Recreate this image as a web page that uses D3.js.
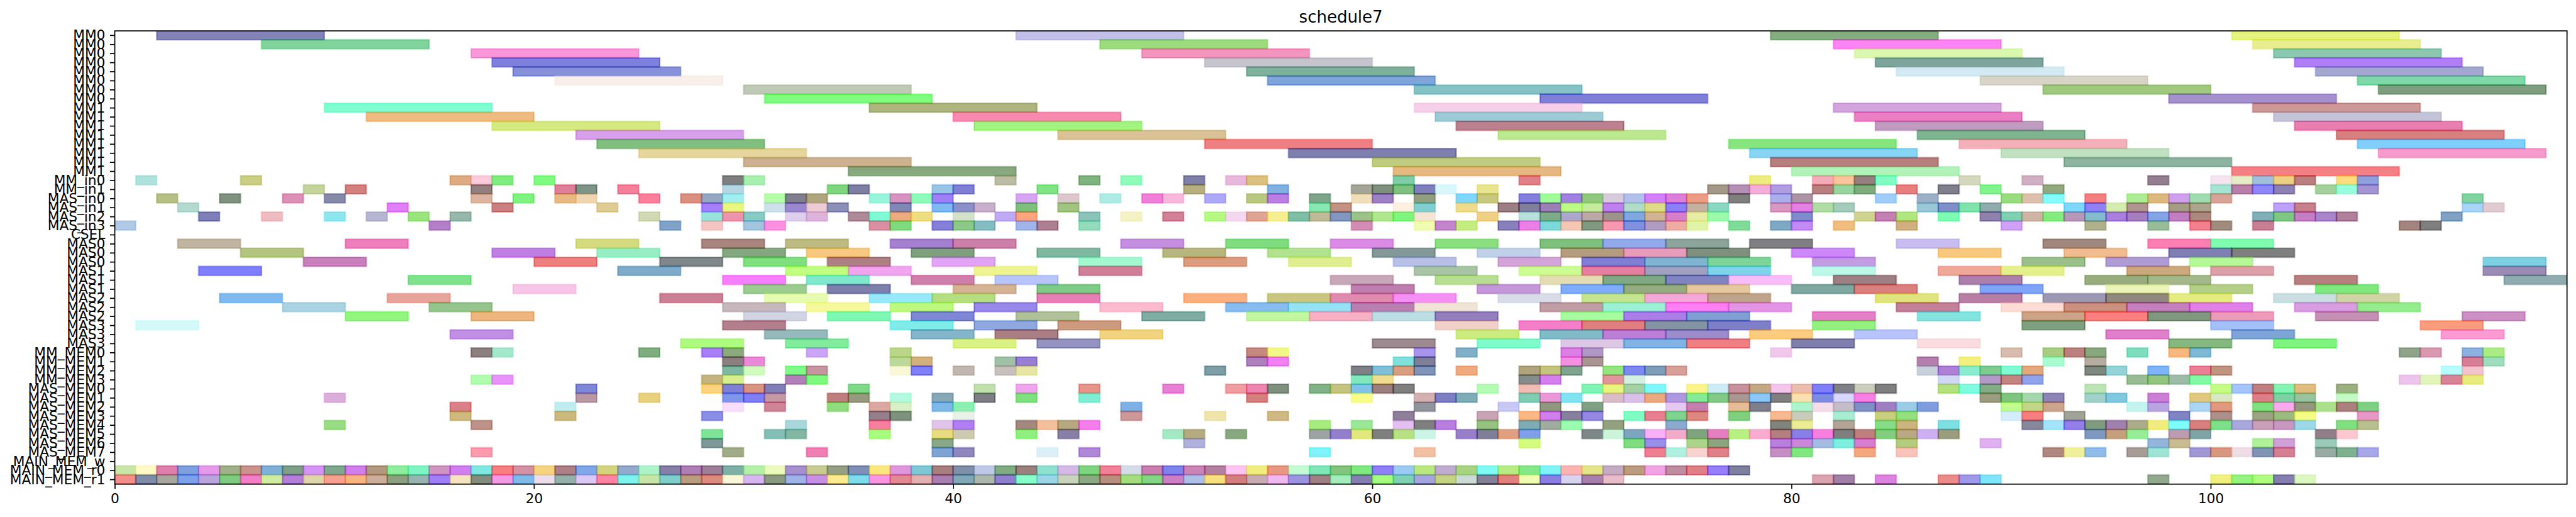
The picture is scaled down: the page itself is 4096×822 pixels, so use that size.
<!DOCTYPE html>
<html><head><meta charset="utf-8">
<script src="https://d3js.org/d3.v7.min.js"></script>
<style>html,body{margin:0;padding:0;background:#fff;overflow:hidden}svg{display:block}</style>
</head><body><div id="chart"></div>
<script>
const chartTitle = "schedule7";
const categories = ["MM0","MM0","MM0","MM0","MM0","MM0","MM0","MM0","MM1","MM1","MM1","MM1","MM1","MM1","MM1","MM1",
 "MM_in0","MM_in1","MAS_in0","MAS_in1","MAS_in2","MAS_in3","CSEL",
 "MAS0","MAS0","MAS0","MAS1","MAS1","MAS1","MAS2","MAS2","MAS2","MAS3","MAS3","MAS3",
 "MM_MEM0","MM_MEM1","MM_MEM2","MM_MEM3","MAS_MEM0","MAS_MEM1","MAS_MEM2","MAS_MEM3","MAS_MEM4","MAS_MEM5","MAS_MEM6","MAS_MEM7",
 "MAIN_MEM_w","MAIN_MEM_r0","MAIN_MEM_r1"];
const taskLengths = [8,8,8,8,8,8,8,8,8,8,8,8,8,8,8,8,1,1,1,1,1,1,3,3,3,3,3,3,3,3,3,3,3,3,3,1,1,1,1,1,1,1,1,1,1,1,1,1,1,1];
const xTicks = [0,20,40,60,80,100];

// [start, observed colour] per row
const mm0Rows = [
 [[2,"8383b8"],[43,"c2bfe8"],[79,"84ae78"],[101,"e4f47c"]],
 [[7,"80d49c"],[47,"9cdc74"],[82,"fc84f4"],[102,"e8ee90"]],
 [[17,"fb96da"],[49,"f495be"],[83,"daf8b0"],[103,"8cc8b0"]],
 [[18,"7d7bde"],[52,"c6c4cc"],[84,"6ca49c"],[104,"b06cf8"]],
 [[19,"8691d9"],[54,"78b09c"],[85,"d4eaf2"],[105,"a4a8d0"]],
 [[21,"f8eeea"],[55,"68a4da"],[89,"d8d4c8"],[107,"64d8a8"]],
 [[30,"c0c9b6"],[62,"84c2c6"],[92,"a0c878"],[108,"709e6c"]],
 [[31,"80fc76"],[68,"6c78d8"],[98,"a490cc"]]
];
const mm1Rows = [
 [[10,"78ffcf"],[36,"aeb574"],[62,"f5d0e8"],[82,"d4a4de"],[102,"cc9898"]],
 [[12,"efbb68"],[40,"f88ab0"],[63,"9ccbd6"],[83,"ec74c4"],[103,"c4c4d8"]],
 [[18,"d4ea80"],[41,"a0f47c"],[64,"bc808e"],[84,"c09cc0"],[104,"e868b0"]],
 [[22,"d89fea"],[45,"dac296"],[66,"bce990"],[86,"68b490"],[106,"d88074"]],
 [[23,"80bf6c"],[52,"ee7482"],[77,"88e478"],[88,"f4b0b8"],[107,"7ccefc"]],
 [[25,"e4d69c"],[56,"7870b0"],[78,"88d4f4"],[90,"c0e2c0"],[108,"f69ccc"]],
 [[30,"cdb292"],[60,"c0cc74"],[79,"b87878"],[93,"8cb4a0"]],
 [[35,"88a974"],[61,"e4b880"],[80,"b0f2b8"],[101,"f47084"]]
];
const inputRows = [
 [[1,"b0e2dd"],[6,"cacd84"],[16,"dfab84"],[17,"fbcadb"],[18,"78ec64"],[20,"76fb6c"],[29,"797f6e"],[30,"a8f0b0"],[42,"bcbca4"],[46,"68b364"],[48,"90fcbc"],[51,"7c72a8"],[53,"e8b8dc"],[54,"dcc07c"],[61,"68cca8"],[67,"e08088"],[78,"ecec74"],[81,"f4acb8"],[82,"fcc49c"],[83,"987874"],[84,"80fcc4"],[88,"d4d8bc"],[91,"d0b0c4"],[97,"947490"],[100,"f4e4f0"],[101,"e4ecc8"],[102,"a0c0dc"],[103,"ecd084"],[104,"bc7c70"],[106,"fcdc64"],[107,"90a0dc"]],
 [[9,"c4d49c"],[11,"d48078"],[17,"946f72"],[21,"de6d9a"],[22,"7a9488"],[24,"f4739a"],[29,"b5d6e3"],[34,"7cd47a"],[35,"726ea4"],[39,"98c4e6"],[40,"7c70d4"],[44,"68e484"],[51,"b7af6a"],[55,"68b0e0"],[59,"a4a498"],[60,"7c9078"],[61,"68c080"],[62,"6e6abc"],[63,"d8f8fc"],[65,"e8e490"],[76,"a49888"],[77,"b490b4"],[78,"f4acd8"],[79,"b09ce0"],[81,"b87870"],[82,"98d4a0"],[83,"68ac68"],[85,"e86878"],[87,"80708c"],[89,"78f48c"],[92,"94a868"],[100,"a4e4d0"],[101,"b868a8"],[102,"9088f8"],[103,"8c80b4"],[105,"a4d09c"],[106,"98ffdc"],[107,"a494d0"]],
 [[2,"b6bf84"],[5,"6f9174"],[8,"dc90b6"],[10,"8789a9"],[17,"dcb5a0"],[19,"76f27c"],[21,"e8ba82"],[22,"f0d6b0"],[25,"fe709c"],[27,"dc8f6f"],[28,"94a9c1"],[29,"a3eef0"],[31,"b4ffa8"],[32,"7c6c8e"],[33,"afa66a"],[36,"98f5dc"],[37,"d892c0"],[38,"8cfcb8"],[39,"a080f8"],[43,"d8a4f4"],[45,"dcc8cc"],[47,"acece4"],[49,"f078d8"],[50,"f8b8dc"],[52,"aea8fa"],[54,"b8c870"],[55,"ba76e0"],[57,"6ca48c"],[59,"f0deba"],[60,"9e80c4"],[62,"929f68"],[64,"6cd8fc"],[65,"c8c874"],[67,"8478dc"],[68,"a0fc98"],[69,"a080e0"],[70,"90c87c"],[71,"d8ccdc"],[72,"b4c0ec"],[73,"d46cfc"],[74,"dc70d8"],[75,"ec9c84"],[77,"7c6c70"],[79,"aaaeec"],[80,"ac94a4"],[84,"a0ccf8"],[86,"9cb0c8"],[90,"98dc64"],[91,"dcc0ac"],[92,"84fcfc"],[94,"f46c80"],[96,"acec94"],[97,"dcb864"],[98,"d0a0ec"],[99,"a0dcb0"],[100,"d8a498"],[112,"68d4a0"]],
 [[3,"b2dace"],[13,"e06ef8"],[18,"cc6f78"],[23,"decc94"],[28,"a56ffc"],[29,"e9f760"],[31,"cee0ea"],[32,"9a88ce"],[33,"eccdd4"],[34,"8c8fb8"],[37,"6f88b5"],[39,"68b9f4"],[40,"8c90c8"],[41,"c8b0cc"],[43,"64c070"],[45,"a0c47c"],[57,"88e8b4"],[58,"c49064"],[61,"fdf0e0"],[62,"70cfd0"],[64,"eedc8c"],[66,"9c7884"],[67,"686c9c"],[68,"9c78b8"],[69,"bcfc84"],[70,"c4ec9c"],[71,"c070f0"],[72,"b0dcc8"],[73,"dedc84"],[74,"8c70fc"],[75,"c4b0a0"],[76,"88d8c4"],[79,"d898c0"],[80,"e464e4"],[81,"b0dca4"],[82,"a4ccbc"],[86,"98c8d8"],[87,"6c90c8"],[88,"7ce4ac"],[89,"90acac"],[93,"7cd8fc"],[94,"9080f8"],[95,"d4ecac"],[96,"b09490"],[98,"a49c84"],[99,"aca48c"],[103,"bca0fc"],[104,"c87c8c"],[112,"a8d4f8"],[113,"e0ccd0"]],
 [[4,"7b72b8"],[7,"eebcc2"],[10,"8fe6ee"],[12,"b6b6d2"],[14,"9be56a"],[16,"96b8aa"],[25,"d0d8b4"],[28,"98e4dc"],[29,"ee94ac"],[30,"88cac4"],[32,"ded0ec"],[33,"ddb4dc"],[35,"ae8a98"],[36,"78fcd6"],[37,"ecac78"],[38,"eede6c"],[40,"d4e2cc"],[42,"beaaf4"],[43,"fca580"],[46,"8cc4bc"],[48,"f4f2c4"],[50,"d27498"],[52,"b6fa84"],[53,"f4d8f0"],[54,"e0a494"],[55,"f6ee90"],[56,"76bfa8"],[57,"bfbb98"],[58,"8296c0"],[59,"9cc488"],[60,"b0e890"],[61,"7cf464"],[62,"f6e4d4"],[65,"f0d084"],[67,"b8e0dc"],[68,"74ac88"],[69,"aca8cc"],[70,"bca8a8"],[71,"9c948c"],[72,"70a8e0"],[73,"d0b494"],[74,"d878cc"],[75,"e8eca4"],[76,"9cfcac"],[80,"6c8ccc"],[83,"d0d490"],[84,"c47cb4"],[85,"b0e860"],[87,"6cfcb4"],[89,"9080ac"],[90,"64d0b0"],[91,"d0b4a4"],[92,"84ec68"],[93,"b898b8"],[94,"84bccc"],[95,"a87cdc"],[96,"a470c0"],[97,"84a4e8"],[98,"c078c0"],[99,"ac8860"],[102,"70b0b8"],[103,"78c884"],[104,"c46cc4"],[105,"a884c8"],[106,"b0709c"],[111,"80a0c4"]],
 [[0,"b0c9e7"],[15,"b378c6"],[26,"6ea3c8"],[28,"f5c5c4"],[30,"a2c4de"],[31,"fd90e0"],[36,"d88f9f"],[37,"6eda74"],[39,"8470d8"],[40,"8cc888"],[41,"84bcc4"],[43,"a0b4ea"],[44,"ae7890"],[46,"92dcbc"],[59,"d28cb4"],[62,"f0fcb0"],[63,"c484cc"],[64,"c4ec70"],[66,"8880b8"],[67,"ec70e4"],[68,"6cd8d8"],[69,"f4c8b4"],[70,"749878"],[71,"f898b0"],[72,"8090dc"],[73,"b09cc0"],[74,"ecaca4"],[75,"e0f4a8"],[77,"78dc98"],[79,"68a8c4"],[80,"c488f4"],[82,"f0bc78"],[85,"d0b080"],[90,"d0a0f4"],[94,"b0b08c"],[97,"98bc98"],[99,"f07c90"],[100,"a08c68"],[102,"c87c94"],[109,"a4847c"],[110,"7c7c68"]]
];
const cselRow = [];
const mas0Rows = [
 [[3,"c0b5a0"],[11,"ee7bbd"],[22,"d4db74"],[28,"a98580"],[32,"bdbb82"],[37,"a568d0"],[40,"cc70a8"],[48,"c48fdf"],[53,"78dc6c"],[58,"da8ce4"],[63,"8ae068"],[68,"80c074"],[71,"94a8ec"],[74,"8ca49c"],[78,"786a84"],[85,"c8bcf0"],[92,"a08878"],[97,"fc74b4"],[100,"68fcb0"]],
 [[6,"b2c474"],[18,"bf7fe2"],[23,"98eec4"],[29,"85a76f"],[33,"f6c880"],[38,"7f9f78"],[44,"6eb8a0"],[50,"b8b66c"],[55,"b0e290"],[60,"84989a"],[65,"c0d0e8"],[69,"b49c6c"],[72,"e89cbc"],[75,"749078"],[80,"cc88f8"],[87,"f8c878"],[93,"f0bc90"],[98,"8068b4"],[101,"6c7c68"]],
 [[9,"c960bb"],[20,"ee7a72"],[26,"70878a"],[30,"80e066"],[34,"ae7085"],[39,"e2a4f6"],[46,"a4f8d0"],[51,"dc9c64"],[56,"dfee90"],[61,"b8c0e8"],[66,"d4a4d8"],[70,"7c70d4"],[73,"80b4d0"],[76,"7cd49c"],[81,"c49ce4"],[91,"9cc08c"],[95,"b09cd4"],[99,"b4f898"],[113,"7cd0e0"]]
];
const mas1Rows = [
 [[4,"8080ff"],[24,"7baac9"],[32,"c0ff80"],[35,"f0a5ee"],[41,"eef490"],[46,"cf8098"],[62,"a8c4a4"],[67,"ccfc94"],[70,"e468a0"],[73,"a0a0c0"],[76,"7cd4ec"],[81,"bcf8e8"],[87,"f0a898"],[90,"e4f08c"],[96,"cca87c"],[100,"dca0a8"],[113,"9c8cb4"]],
 [[14,"78e28c"],[29,"f878fc"],[33,"80e8cc"],[38,"d06cac"],[42,"b8c4fc"],[58,"c8a8b8"],[63,"b8de94"],[68,"e4dcb4"],[71,"68a884"],[74,"8084c0"],[77,"f8bcf8"],[82,"9e6a84"],[88,"ac70ac"],[94,"98ac68"],[97,"a4b88c"],[104,"b87c70"],[114,"90acb0"]],
 [[19,"f7c5e8"],[30,"9ccc90"],[34,"7468ac"],[40,"d4b494"],[44,"74cc88"],[59,"be70ae"],[65,"c498d8"],[69,"7cacfc"],[72,"94ac68"],[75,"e4c8a0"],[80,"78a8a0"],[83,"dc7c64"],[89,"78a4f8"],[95,"ecf4b8"],[99,"b4d088"],[105,"6ce87c"]]
];
const mas2Rows = [
 [[5,"6cb9ef"],[13,"e8a39a"],[26,"cc8094"],[31,"e6fbb0"],[36,"98e8fc"],[39,"b4de70"],[44,"e86cb4"],[51,"fcb078"],[55,"cbc66c"],[58,"e08ab0"],[61,"f490f4"],[66,"d8dce8"],[70,"c4e490"],[73,"f4a8d8"],[76,"bfa48c"],[84,"e0e464"],[88,"b868a4"],[92,"9c98b4"],[95,"908874"],[98,"e4ec74"],[103,"c8dee0"],[106,"d0d4a4"]],
 [[8,"a9d2e3"],[15,"96c48e"],[29,"c6b7bd"],[33,"f6f89c"],[37,"bdf868"],[41,"9888ea"],[47,"fcbace"],[53,"88bcf0"],[56,"94e2f4"],[59,"b868b0"],[62,"f0e4d6"],[68,"c09ca4"],[71,"9cf0d4"],[74,"fc64f4"],[77,"e494e4"],[85,"c48098"],[90,"fcdcd4"],[93,"cc9078"],[96,"c478bc"],[99,"e068e8"],[104,"d89ce0"],[107,"94ec8c"]],
 [[11,"92f67e"],[17,"edb67c"],[30,"d0d4e3"],[34,"74f8b4"],[38,"7e88d6"],[43,"b0c098"],[49,"70aca4"],[54,"c4f6a0"],[57,"f8b0c4"],[60,"bcdee4"],[63,"9478be"],[69,"a8fca0"],[72,"ac70e8"],[75,"80a0d4"],[81,"e47cc8"],[86,"84e4e0"],[91,"cca488"],[94,"fc6c74"],[97,"80987c"],[100,"ec9cb8"],[105,"c490b4"],[112,"cc90c4"]]
];
const mas3Rows = [
 [[1,"d2fafa"],[29,"b3738c"],[37,"68ecea"],[41,"8fa8e0"],[45,"cc9a6c"],[63,"f0d0c8"],[67,"f470c8"],[70,"e07c80"],[73,"8494a4"],[76,"747cc8"],[81,"94f068"],[91,"6ca07c"],[100,"a4c0f8"],[110,"fc9c74"]],
 [[16,"c190e6"],[31,"96b9bb"],[38,"84b5ca"],[42,"aa7a84"],[47,"f2d480"],[64,"ccec60"],[68,"80bcc8"],[71,"bc70d8"],[74,"9c8ccc"],[78,"fccc78"],[83,"b8c4fc"],[95,"e080cc"],[101,"6ca4d8"],[111,"fc9ad4"]],
 [[27,"aefc68"],[32,"80ec9c"],[40,"daf284"],[44,"9494c0"],[60,"9c8a90"],[65,"78fccc"],[69,"dcc8e4"],[72,"80b4e4"],[75,"f06c84"],[80,"8078ac"],[86,"fadce0"],[98,"84b870"],[103,"7cf470"]]
];
const mmMemRows = [
 [[17,"8e7468"],[18,"a4e8cc"],[25,"68ad6c"],[28,"a868f6"],[29,"8ca87e"],[33,"cba5f8"],[37,"bbd68a"],[54,"c48874"],[55,"f2f888"],[62,"a894ec"],[64,"80b0c8"],[69,"dc7ce4"],[70,"b098c4"],[79,"f0c8ec"],[90,"d8bcb0"],[92,"a8cc80"],[93,"bc6478"],[94,"88a868"],[96,"70dcbc"],[98,"f8b880"],[99,"70b8d4"],[109,"90a48c"],[110,"d898b0"],[112,"8cb0e0"],[113,"acec84"]],
 [[29,"8c7c7e"],[30,"e88ad8"],[37,"bcd89a"],[38,"d4b068"],[42,"a0c0a8"],[43,"9870d4"],[54,"ae80bc"],[55,"f080f4"],[61,"70e0dc"],[62,"686a98"],[69,"f490e0"],[70,"a89490"],[86,"b47cac"],[88,"f4f064"],[92,"a8fcd0"],[94,"b4ada0"],[112,"d87c98"],[113,"a0dcc0"]],
 [[29,"72b8a0"],[30,"d0fcc0"],[32,"78fc88"],[33,"c596a0"],[37,"f8f8d8"],[38,"6f80fc"],[40,"c0b8b0"],[42,"c8c0be"],[43,"e8e6a4"],[52,"6f9ea8"],[59,"686888"],[60,"7cc0d8"],[61,"d89e6c"],[62,"6894b8"],[64,"f0aa7c"],[67,"b0a47c"],[68,"c4c47c"],[69,"64a490"],[71,"94e468"],[72,"6888f0"],[73,"7c9cb8"],[74,"d8a098"],[86,"c8d0dc"],[87,"b078d8"],[88,"8cecd0"],[89,"64cc90"],[90,"68fcd4"],[91,"e4a87c"],[94,"74886c"],[95,"94d4d8"],[97,"70b4fc"],[99,"ec7098"],[100,"c09480"],[111,"b8fcfc"],[112,"f4c4cc"]],
 [[17,"b2fcae"],[18,"e793fa"],[28,"c4b46c"],[29,"d8ee8e"],[32,"b36cb8"],[33,"78f876"],[59,"80e8bc"],[60,"f0dc90"],[67,"848c8c"],[68,"d47cf0"],[71,"e0949c"],[72,"d4f0e0"],[87,"d0d8f4"],[89,"b498c8"],[90,"c48478"],[91,"90a4ec"],[96,"98bc94"],[97,"94c47c"],[98,"9cbca8"],[99,"84f8a4"],[109,"ecc4ec"],[110,"e0f4bc"],[111,"d88498"],[112,"e8ec70"]]
];
const masMemRows = [
 [[22,"6c88d8"],[28,"fcd47c"],[29,"6870d6"],[30,"d89468"],[31,"8068b8"],[35,"6cda88"],[41,"c0e0ac"],[43,"f0a4ee"],[46,"e89488"],[50,"e864d4"],[53,"f09ca0"],[54,"ee84b0"],[55,"659069"],[57,"80b488"],[58,"c4c468"],[59,"7cc4e8"],[60,"9c6e6c"],[61,"6c7c68"],[65,"b4fcb4"],[67,"f0bcb4"],[70,"60f4b4"],[71,"e8f468"],[72,"a4d0a4"],[73,"68f8fc"],[75,"fcf488"],[76,"ccecf8"],[77,"c8909c"],[78,"c4a884"],[79,"f4c4ec"],[80,"ecbcac"],[81,"6478fc"],[82,"7c7488"],[83,"cccebc"],[84,"787078"],[87,"b4e068"],[88,"78fce0"],[89,"84ac84"],[94,"bce4b4"],[100,"c4fc84"],[101,"a4c4fc"],[102,"c06c68"],[103,"84f4b4"],[104,"e0bc7c"],[106,"9cb06c"]],
 [[10,"dcaedc"],[22,"b99aa4"],[25,"e8d074"],[29,"6c96ea"],[30,"7878f4"],[31,"c498a4"],[34,"c0666f"],[35,"989a64"],[37,"b4fae0"],[39,"88a8b8"],[41,"686e88"],[43,"6ce068"],[46,"6ceed4"],[54,"d66874"],[59,"f8fc88"],[62,"d4b0b0"],[63,"7868c4"],[64,"80acb8"],[67,"68ccb4"],[68,"ec98d8"],[69,"78e4f0"],[71,"d8bcc8"],[72,"d8c0e8"],[73,"eca878"],[74,"b098e0"],[75,"84ec98"],[76,"84c888"],[77,"a89890"],[78,"8cc8f8"],[79,"7c8070"],[80,"f8e0b0"],[81,"7c8ce4"],[82,"d8d8fc"],[83,"f878e4"],[89,"9c9c78"],[90,"7cc474"],[91,"a4d8ac"],[92,"8c84b4"],[94,"a0d0c8"],[95,"6cc8e0"],[97,"cc68d4"],[99,"e0c878"],[100,"d8e8c4"],[102,"dc6c88"],[103,"68d0a4"],[104,"98c4a0"],[106,"c4fac4"]],
 [[16,"d87488"],[21,"c0ecf0"],[29,"fadcfc"],[31,"cf8496"],[34,"90dc64"],[36,"daa8a0"],[37,"d8f0c8"],[39,"78b8e8"],[40,"8ceeb0"],[48,"6cb0e4"],[62,"90949c"],[66,"c8c8f4"],[68,"8f9868"],[70,"68a084"],[74,"e4c8f0"],[75,"c468ac"],[77,"e4bc98"],[78,"6c748c"],[80,"acf4cc"],[81,"f4dce8"],[82,"c4bcc8"],[83,"6890c4"],[84,"a068c0"],[85,"9ccce4"],[86,"7c9cdc"],[90,"c0fc90"],[91,"c4d488"],[92,"cca48c"],[96,"c4f4f0"],[97,"b8a4e0"],[99,"acd4f4"],[100,"e09870"],[102,"64e070"],[103,"fca8ec"],[104,"949668"],[105,"ace08c"],[106,"ac6c78"],[107,"6cd084"]],
 [[16,"ceba6c"],[21,"ccb96a"],[28,"8a8ee4"],[36,"946f8a"],[37,"7f9278"],[40,"e8f2e8"],[48,"cc9898"],[52,"eee4ac"],[55,"d0b884"],[61,"90789a"],[65,"c8a4b4"],[67,"fcb884"],[68,"d070ec"],[69,"887c9c"],[70,"9488e0"],[72,"68fcc4"],[73,"e86890"],[74,"60d490"],[75,"dc8880"],[77,"7cd068"],[79,"f8b890"],[80,"c8ccb8"],[82,"a8ecd4"],[84,"c8d06c"],[85,"94e070"],[90,"d4ecfc"],[91,"f87880"],[93,"a0a498"],[98,"7484c4"],[100,"ac908c"],[102,"9ca484"],[103,"9cbc78"],[104,"f4fc84"],[107,"e898c8"]],
 [[10,"98dc84"],[17,"bf9288"],[32,"a8d8dc"],[36,"f870a0"],[39,"e0c4ec"],[40,"b070f4"],[43,"a48864"],[44,"f4c09c"],[45,"b6a86c"],[46,"f47cec"],[57,"a8ec74"],[59,"98e898"],[61,"e4c0f0"],[62,"806868"],[63,"b87ce0"],[65,"94c478"],[67,"70acb4"],[68,"a0aca0"],[69,"9cfcb0"],[71,"94a078"],[74,"8caad0"],[79,"7c8478"],[80,"ecec94"],[82,"b4a498"],[84,"88dc88"],[85,"ccb47c"],[87,"78e0e4"],[91,"88889c"],[92,"a4e4f8"],[93,"9470e8"],[94,"689c70"],[95,"a080ac"],[96,"acac8c"],[97,"f0ec74"],[98,"74fcfc"],[99,"d87868"],[100,"64e08c"],[101,"a8a8dc"],[102,"c8a0b8"],[103,"c898c0"],[104,"9cd8e8"],[106,"80e068"],[107,"b8c090"]],
 [[28,"7ce498"],[31,"84beb4"],[32,"84b6a4"],[36,"a8fc70"],[39,"e8dc70"],[40,"cccab0"],[43,"90f07c"],[45,"8870a4"],[50,"a4e8c4"],[51,"b4ac80"],[53,"88a880"],[57,"9ca4a4"],[58,"9478cc"],[59,"e0e868"],[60,"707e7c"],[61,"b8e084"],[62,"ccf5e8"],[64,"9878c8"],[65,"647898"],[66,"e0a06c"],[67,"7ca0e8"],[70,"5f8888"],[71,"ccf4dc"],[72,"6ca4c0"],[73,"f8b0f8"],[74,"f0acc8"],[75,"7ca46c"],[76,"e464c0"],[77,"b8f084"],[78,"f8acd0"],[79,"b46c7c"],[80,"8878e8"],[81,"f860e0"],[82,"686c70"],[83,"c07c60"],[84,"84cc64"],[85,"b8a884"],[86,"ccb0f0"],[87,"9c9c78"],[94,"7098c0"],[95,"c4a064"],[96,"98ec98"],[98,"bc9cb0"],[99,"68a4a4"],[105,"907c88"],[106,"fcc8d0"]],
 [[28,"739898"],[39,"88a888"],[51,"b0b0dc"],[67,"d4fc78"],[72,"68dc7c"],[73,"9890e8"],[75,"acd48c"],[76,"8ca47c"],[79,"b87cdc"],[80,"cc88d8"],[81,"a4bce0"],[82,"6cf0e0"],[83,"d460d0"],[85,"b4cc70"],[89,"e0b0f0"],[97,"94b4dc"],[98,"c8bc94"],[102,"b0f098"],[103,"d0a0d8"],[105,"9ccab8"]],
 [[17,"fe9aac"],[29,"a0ac88"],[33,"f07cb4"],[39,"70a4d4"],[40,"9088bc"],[44,"dcf0f8"],[46,"b088d8"],[57,"70f4f8"],[62,"f4c0a4"],[73,"ec6890"],[74,"b0f0e0"],[75,"f8d4d0"],[76,"e08088"],[79,"c490c4"],[80,"74e864"],[83,"f4a868"],[85,"f8c4bc"],[92,"b08878"],[93,"f0f09c"],[94,"90bce8"],[96,"a89c98"],[97,"a0e4d8"],[99,"a098d4"],[100,"d89878"],[101,"eedde4"],[102,"8094b4"],[103,"d46c94"],[105,"98aca4"],[106,"70b090"],[107,"a8a8e8"]]
];
const mainWriteRow = [];
const mainRead0Row = [[0,"c9e5a8"],[1,"fffac4"],[2,"e07cab"],[3,"7fa0df"],[4,"e699e9"],[5,"a0b18a"],[6,"cc938c"],[7,"62b0d8"],[8,"66a088"],[9,"d593f5"],[10,"6ea88f"],[11,"d171ec"],[12,"b29867"],[13,"8cee9e"],[14,"66f5c5"],[15,"cf95c0"],[16,"d071ee"],[17,"7ce8e0"],[18,"f87a68"],[19,"d492a4"],[20,"f4d47c"],[21,"ae6588"],[22,"80a8e8"],[23,"d4d46c"],[24,"94a9cc"],[25,"aef2c8"],[26,"887fa9"],[27,"ae74b4"],[28,"9c7c98"],[29,"78b0a8"],[30,"b4f0a8"],[31,"ecfabc"],[32,"a88fd0"],[33,"c8cc90"],[34,"959f84"],[35,"6b8fb8"],[36,"fae868"],[37,"e096dc"],[38,"74c8d8"],[39,"a87c74"],[40,"6c90a8"],[41,"c0c8e8"],[42,"68ac80"],[43,"9c7070"],[44,"90e0d0"],[45,"d4b8e8"],[46,"6cd47c"],[47,"f47898"],[48,"d4dce8"],[49,"c868b0"],[50,"7484ec"],[51,"cc84b4"],[52,"b480a0"],[53,"fcc4f0"],[54,"f0ee78"],[55,"e89880"],[56,"c4fad4"],[57,"78e8b8"],[58,"84c474"],[59,"7ce878"],[60,"9068f8"],[61,"9ccaf4"],[62,"b8e878"],[63,"c0acd0"],[64,"a8d47c"],[65,"7cfaf4"],[66,"b8ec84"],[67,"84e888"],[68,"78f4f8"],[69,"fcb4b0"],[70,"e4e488"],[71,"c4acc4"],[72,"bc9c6c"],[73,"f0a4e4"],[74,"c08ca0"],[75,"e07c88"],[76,"9878fa"],[77,"7868a0"]];
const mainRead1Row = [[0,"f48e8a"],[1,"6e8bab"],[2,"a8a79f"],[3,"7fa1ec"],[4,"b9a5dc"],[5,"7ecb6a"],[6,"f06bc8"],[7,"d0eca0"],[8,"b372d8"],[9,"dfd6ac"],[10,"f5a090"],[11,"f8b565"],[12,"ccae9a"],[13,"8e9f71"],[14,"98b3b0"],[15,"a065f8"],[16,"f4e4c0"],[17,"838c7e"],[18,"f49ae4"],[19,"78bbe8"],[20,"ecdcec"],[21,"94b0a8"],[22,"dcc8f4"],[23,"fe84a4"],[24,"74f3ee"],[25,"c8e4a8"],[26,"7ccecc"],[27,"ba9c7f"],[28,"dc8c78"],[29,"faf6d8"],[30,"d8b4f0"],[31,"8a9a64"],[32,"a0b3e6"],[33,"c890e4"],[34,"fbea90"],[35,"64dcec"],[36,"f896e2"],[37,"e08a94"],[38,"e4b0b0"],[39,"a87cb0"],[40,"70a8b8"],[41,"acb8ac"],[42,"9068cc"],[43,"88ffc8"],[44,"9cd4e8"],[45,"c8d4bc"],[46,"8ca884"],[47,"b88f74"],[48,"a4dc78"],[49,"84d484"],[50,"cc68c4"],[51,"acc0e8"],[52,"f8e068"],[53,"d47874"],[54,"c8acb4"],[55,"f0b8f0"],[56,"9c94e0"],[57,"a07484"],[58,"a4ecbc"],[59,"8464b0"],[60,"a4fc68"],[61,"80d0b4"],[62,"a4a4e0"],[63,"c4d484"],[64,"ccdcd4"],[65,"848098"],[66,"e0806c"],[67,"f0fcb0"],[68,"8c6ce4"],[69,"d8d4f0"],[70,"a874ac"],[71,"e8bcc8"],[81,"dca4b0"],[82,"a07ca8"],[84,"dc84e0"],[87,"ec8c88"],[88,"a098e8"],[89,"80e4fc"],[97,"94a890"],[100,"f0f060"],[101,"94f46c"],[102,"b0fc80"],[103,"8468b0"],[104,"dcf8c0"]];

const allRows = [...mm0Rows, ...mm1Rows, ...inputRows, cselRow, ...mas0Rows, ...mas1Rows, ...mas2Rows, ...mas3Rows, ...mmMemRows, ...masMemRows, mainWriteRow, mainRead0Row, mainRead1Row];
const tasks = allRows.flatMap((row, i) => row.map(([start, colour]) => ({row: i, start, end: start + taskLengths[i], colour})));

// geometry in reference pixels, drawn at the window's scale
const W = 5252, H = 1054;
const frame = {l: 234, r: 5233.7, t: 63, b: 987};
const PT = 200 / 72;
const barAlpha = 0.5;
const edgeAlpha = 0.3;

const x = d3.scaleLinear().domain([0, 117]).range([frame.l, frame.r]);
const rowH = (frame.b - frame.t) / 50;
const y = d3.scaleLinear().domain([-0.476, 49.524]).range([frame.t, frame.b]);

// the reference shows the bars' colours over white: undo that blend
function baseColour(hex) {
  const c = d3.rgb("#" + hex);
  const un = v => Math.max(0, Math.min(255, (v - 255 * (1 - barAlpha)) / barAlpha));
  return d3.rgb(un(c.r), un(c.g), un(c.b)).formatHex();
}

const svg = d3.select("#chart").append("svg").attr("width", 4096).attr("height", 822).attr("viewBox", `0 0 ${W} ${H}`)
  .style("font-family", "'DejaVu Sans', sans-serif");

svg.append("defs").append("clipPath").attr("id", "plot").append("rect")
  .attr("x", frame.l).attr("y", frame.t).attr("width", frame.r - frame.l).attr("height", frame.b - frame.t);

svg.append("g").attr("clip-path", "url(#plot)").selectAll("rect").data(tasks).join("rect")
  .attr("x", d => x(d.start)).attr("width", d => x(d.end) - x(d.start))
  .attr("y", d => y(d.row) - rowH / 2).attr("height", rowH)
  .attr("fill", d => baseColour(d.colour)).attr("fill-opacity", barAlpha)
  .attr("stroke", d => baseColour(d.colour)).attr("stroke-opacity", edgeAlpha).attr("stroke-width", 1.1 * PT);

const axisStyle = g => {
  g.select(".domain").remove();
  g.selectAll(".tick line").attr("stroke", "#000").attr("stroke-width", 0.8 * PT);
  g.selectAll(".tick text").attr("fill", "#000").style("font-size", (10 * PT) + "px").style("font-family", "'DejaVu Sans', sans-serif");
};

svg.append("g").attr("transform", `translate(${frame.l},0)`)
  .call(d3.axisLeft(y).tickValues(d3.range(categories.length)).tickFormat(i => categories[i]).tickSize(3.5 * PT).tickPadding(3.5 * PT))
  .call(axisStyle);

svg.append("g").attr("transform", `translate(0,${frame.b})`)
  .call(d3.axisBottom(x).tickValues(xTicks).tickFormat(d3.format("d")).tickSize(3.5 * PT).tickPadding(3.5 * PT))
  .call(axisStyle);

svg.append("rect").attr("x", frame.l).attr("y", frame.t).attr("width", frame.r - frame.l).attr("height", frame.b - frame.t)
  .attr("fill", "none").attr("stroke", "#000").attr("stroke-width", 0.8 * PT);

svg.append("text").attr("x", (frame.l + frame.r) / 2).attr("y", frame.t - 6 * PT)
  .attr("text-anchor", "middle").attr("fill", "#000").style("font-size", (12 * PT) + "px").text(chartTitle);
</script></body></html>
